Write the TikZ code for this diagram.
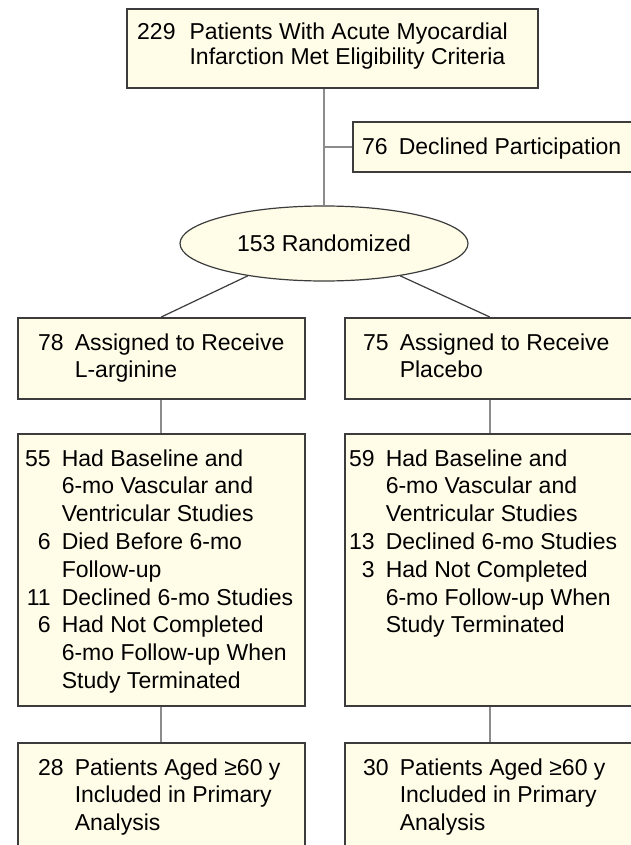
\documentclass[tikz,border=0pt]{standalone}
\usepackage{fontspec}
\setmainfont{Liberation Sans}
\usetikzlibrary{shapes.geometric}
\definecolor{boxfill}{RGB}{255,252,232}
\definecolor{boxline}{RGB}{60,60,60}
\definecolor{stem}{RGB}{140,140,140}
\newcommand{\flowfont}{\fontsize{23}{27.8}\selectfont}
\tikzset{
  box/.style={draw=boxline,fill=boxfill,line width=1.6pt,rectangle,anchor=north west,inner sep=0pt},
  txt/.style={anchor=base west,inner sep=0pt,font=\flowfont},
  stemline/.style={draw=stem,line width=2pt},
  branch/.style={draw=boxline,line width=1.2pt}
}
\begin{document}
\begin{tikzpicture}[x=1pt,y=-1pt]
\useasboundingbox (0,0) rectangle (631,845);
\clip (0,0) rectangle (631,845);
\fill[white] (0,0) rectangle (631,845);
% boxes
\node[box,minimum width=411pt,minimum height=79pt] (enrol) at (126,8) {};
\node[box,minimum width=290pt,minimum height=50pt] (decl) at (352,121) {};
\node[ellipse,draw=boxline,fill=boxfill,line width=1.2pt,minimum width=288pt,minimum height=75pt,inner sep=0pt,font=\flowfont] (rand) at (324,243.5) {153 Randomized};
\node[box,minimum width=287pt,minimum height=81pt] (armL) at (17,317) {};
\node[box,minimum width=290pt,minimum height=81pt] (armR) at (344,317) {};
\node[box,minimum width=287pt,minimum height=272pt] (midL) at (17,433) {};
\node[box,minimum width=290pt,minimum height=272pt] (midR) at (344,433) {};
\node[box,minimum width=287pt,minimum height=130pt] (endL) at (17,742) {};
\node[box,minimum width=290pt,minimum height=130pt] (endR) at (344,742) {};
% connectors
\draw[stemline] (rand.north) -- (rand.north |- enrol.south);
\draw[stemline] (rand.north |- decl.west) -- (decl.west);
\draw[branch] (rand.203) -- (armL.north);
\draw[branch] (rand.337) -- (armR.north);
\draw[stemline] (armL.south) -- (midL.north);
\draw[stemline] (armR.south) -- (midR.north);
\draw[stemline] (midL.south) -- (endL.north);
\draw[stemline] (midR.south) -- (endR.north);
% texts
\node[txt] (enroltxt) at (137,40) {\fontsize{23}{25}\selectfont\begin{tabular}[t]{@{}r@{\hspace{14pt}}l@{}}229 & Patients With Acute Myocardial\\ & Infarction Met Eligibility Criteria\end{tabular}};
\node[txt] (decltxt) at (362,155) {\begin{tabular}[t]{@{}r@{\hspace{11pt}}l@{}}76 & Declined Participation\end{tabular}};
\node[txt] (armLtxt) at (38,350) {\begin{tabular}[t]{@{}r@{\hspace{11pt}}l@{}}78 & Assigned to Receive\\ & L-arginine\end{tabular}};
\node[txt] (armRtxt) at (363,350) {\begin{tabular}[t]{@{}r@{\hspace{11pt}}l@{}}75 & Assigned to Receive\\ & Placebo\end{tabular}};
\node[txt] (midLtxt) at (25,466) {\begin{tabular}[t]{@{}r@{\hspace{11pt}}l@{}}55 & Had Baseline and\\ & 6-mo Vascular and\\ & Ventricular Studies\\ 6 & Died Before 6-mo\\ & Follow-up\\ 11 & Declined 6-mo Studies\\ 6 & Had Not Completed\\ & 6-mo Follow-up When\\ & Study Terminated\end{tabular}};
\node[txt] (midRtxt) at (349,466) {\begin{tabular}[t]{@{}r@{\hspace{11pt}}l@{}}59 & Had Baseline and\\ & 6-mo Vascular and\\ & Ventricular Studies\\ 13 & Declined 6-mo Studies\\ 3 & Had Not Completed\\ & 6-mo Follow-up When\\ & Study Terminated\end{tabular}};
\node[txt] (endLtxt) at (38,775) {\begin{tabular}[t]{@{}r@{\hspace{11pt}}l@{}}28 & Patients Aged ≥60 y\\ & Included in Primary\\ & Analysis\end{tabular}};
\node[txt] (endRtxt) at (363,775) {\begin{tabular}[t]{@{}r@{\hspace{11pt}}l@{}}30 & Patients Aged ≥60 y\\ & Included in Primary\\ & Analysis\end{tabular}};
\end{tikzpicture}
\end{document}
